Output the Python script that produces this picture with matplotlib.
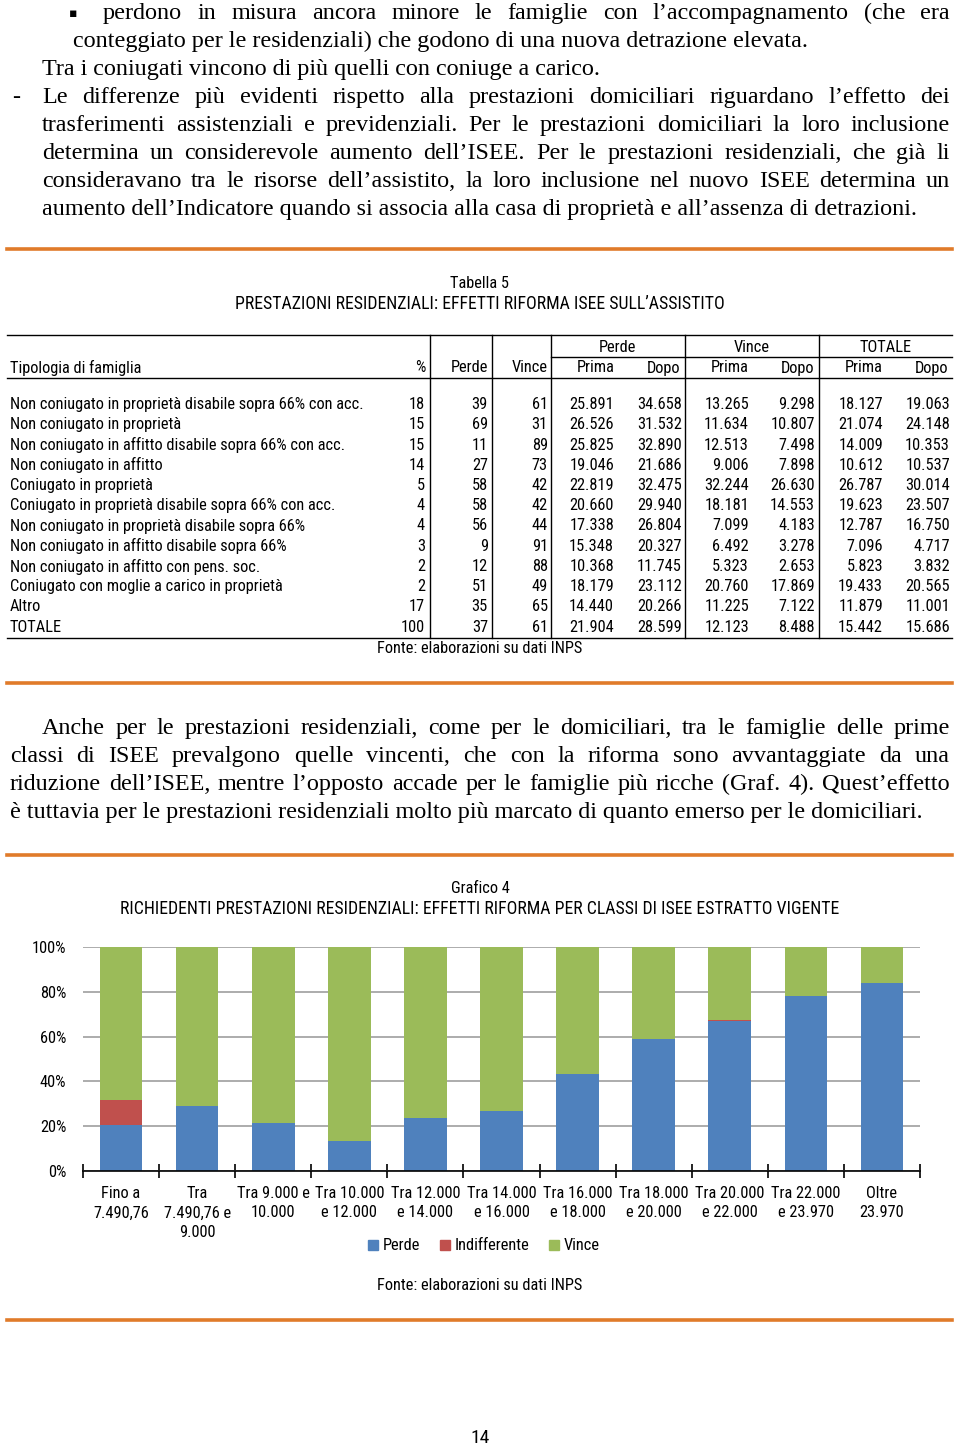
import matplotlib
matplotlib.use('Agg')
import matplotlib.pyplot as plt
from matplotlib.lines import Line2D
from matplotlib.patches import Patch

W, H = 960, 1447
SERIF = ['Liberation Serif', 'DejaVu Serif']
SANS = ['Roboto Condensed', 'Liberation Sans', 'DejaVu Sans']
ORANGE = '#E07B2A'
FS = 11.8      # testo sans
FST = 12.8     # titoli in maiuscolo
FSERIF = 17.4  # testo del corpo

# --- Tabella 5 ---
famiglie = [
    'Non coniugato in proprietà disabile sopra 66% con acc.',
    'Non coniugato in proprietà',
    'Non coniugato in affitto disabile sopra 66% con acc.',
    'Non coniugato in affitto',
    'Coniugato in proprietà',
    'Coniugato in proprietà disabile sopra 66% con acc.',
    'Non coniugato in proprietà disabile sopra 66%',
    'Non coniugato in affitto disabile sopra 66%',
    'Non coniugato in affitto con pens. soc.',
    'Coniugato con moglie a carico in proprietà',
    'Altro',
    'TOTALE',
]
quota = [18, 15, 15, 14, 5, 4, 4, 3, 2, 2, 17, 100]
perc_perde = [39, 69, 11, 27, 58, 58, 56, 9, 12, 51, 35, 37]
perc_vince = [61, 31, 89, 73, 42, 42, 44, 91, 88, 49, 65, 61]
perde_prima = [25891, 26526, 25825, 19046, 22819, 20660, 17338, 15348, 10368, 18179, 14440, 21904]
perde_dopo = [34658, 31532, 32890, 21686, 32475, 29940, 26804, 20327, 11745, 23112, 20266, 28599]
vince_prima = [13265, 11634, 12513, 9006, 32244, 18181, 7099, 6492, 5323, 20760, 11225, 12123]
vince_dopo = [9298, 10807, 7498, 7898, 26630, 14553, 4183, 3278, 2653, 17869, 7122, 8488]
tot_prima = [18127, 21074, 14009, 10612, 26787, 19623, 12787, 7096, 5823, 19433, 11879, 15442]
tot_dopo = [19063, 24148, 10353, 10537, 30014, 23507, 16750, 4717, 3832, 20565, 11001, 15686]

# --- Grafico 4 ---
classi = ['Fino a\n7.490,76', 'Tra\n7.490,76 e\n9.000', 'Tra 9.000 e\n10.000',
          'Tra 10.000\ne 12.000', 'Tra 12.000\ne 14.000', 'Tra 14.000\ne 16.000',
          'Tra 16.000\ne 18.000', 'Tra 18.000\ne 20.000', 'Tra 20.000\ne 22.000',
          'Tra 22.000\ne 23.970', 'Oltre\n23.970']
perde = [20.5, 29.0, 21.6, 13.2, 23.5, 26.9, 43.3, 58.9, 67.1, 78.3, 83.8]
indifferente = [11.0, 0, 0, 0.4, 0, 0, 0, 0, 0.4, 0, 0]
vince = [100 - p - i for p, i in zip(perde, indifferente)]

fig = plt.figure(figsize=(9.6, 14.47), dpi=100)
renderer = fig.canvas.get_renderer()


def fx(x):
    return x / W


def fy(y):
    return 1 - y / H


def put(x, y, s, size=FS, family=SANS, ha='left', va='center', **kw):
    return fig.text(fx(x), fy(y), s, fontsize=size, family=family, ha=ha, va=va, **kw)


def hline(y, x0, x1, color='black', lw=1.0):
    fig.add_artist(Line2D([fx(x0), fx(x1)], [fy(y), fy(y)], color=color, lw=lw,
                          transform=fig.transFigure))


def vline(x, y0, y1, lw=1.0):
    fig.add_artist(Line2D([fx(x), fx(x)], [fy(y0), fy(y1)], color='black', lw=lw,
                          transform=fig.transFigure))


def riga(text, x0, x1, y, justify=True, size=FSERIF):
    if not justify:
        put(x0, y, text, size, SERIF, va='baseline')
        return
    words = text.split()
    arts = [put(x0, y, w, size, SERIF, va='baseline') for w in words]
    widths = [a.get_window_extent(renderer).width for a in arts]
    gap = (x1 - x0 - sum(widths)) / (len(words) - 1)
    x = x0
    for a, w in zip(arts, widths):
        a.set_x(fx(x))
        x += w + gap


# testo in alto
put(73, 17, '▪', 9, ['DejaVu Sans'], ha='center', va='baseline')
riga("perdono in misura ancora minore le famiglie con l’accompagnamento (che era", 103, 950, 19)
riga("conteggiato per le residenziali) che godono di una nuova detrazione elevata.", 73, 950, 47, False)
riga("Tra i coniugati vincono di più quelli con coniuge a carico.", 42, 950, 75, False)
put(12, 103, '-', FSERIF, SERIF, va='baseline')
riga("Le differenze più evidenti rispetto alla prestazioni domiciliari riguardano l’effetto dei", 42, 950, 103)
riga("trasferimenti assistenziali e previdenziali. Per le prestazioni domiciliari la loro inclusione", 42, 950, 131)
riga("determina un considerevole aumento dell’ISEE. Per le prestazioni residenziali, che già li", 42, 950, 159)
riga("consideravano tra le risorse dell’assistito, la loro inclusione nel nuovo ISEE determina un", 42, 950, 187)
riga("aumento dell’Indicatore quando si associa alla casa di proprietà e all’assenza di detrazioni.", 42, 950, 215, False)

for y in (249, 683, 855, 1320):
    hline(y, 7, 952, ORANGE, 2.6)

# tabella
put(480, 284, 'Tabella 5', ha='center')
put(480, 304, 'PRESTAZIONI RESIDENZIALI: EFFETTI RIFORMA ISEE SULL’ASSISTITO', FST, ha='center')
hline(335, 7, 952)
hline(357, 551, 952)
hline(378, 7, 952)
hline(638, 7, 952)
for x in (430, 492, 551, 685, 819):
    vline(x, 335, 638)
put(617, 347, 'Perde', ha='center')
put(752, 347, 'Vince', ha='center')
put(886, 347, 'TOTALE', ha='center')
put(10, 368, 'Tipologia di famiglia')
put(425, 368, '%', ha='right')
put(488, 368, 'Perde', ha='right')
put(548, 368, 'Vince', ha='right')
for xc, lab in zip((596, 664, 730, 798, 864, 932), ['Prima', 'Dopo'] * 3):
    put(xc, 368, lab, ha='center')


def num(v):
    return f'{v:,}'.replace(',', '.')


cols = [(425, quota, str), (488, perc_perde, str), (548, perc_vince, str),
        (614, perde_prima, num), (682, perde_dopo, num), (749, vince_prima, num),
        (815, vince_dopo, num), (883, tot_prima, num), (950, tot_dopo, num)]
for i, fam in enumerate(famiglie):
    y = 404.5 + i * 20.25
    put(10, y, fam)
    for xr, vals, fmt in cols:
        put(xr, y, fmt(vals[i]), ha='right')
put(480, 649, 'Fonte: elaborazioni su dati INPS', ha='center')

# secondo paragrafo
riga("Anche per le prestazioni residenziali, come per le domiciliari, tra le famiglie delle prime", 42, 950, 734)
riga("classi di ISEE prevalgono quelle vincenti, che con la riforma sono avvantaggiate da una", 10, 950, 762)
riga("riduzione dell’ISEE, mentre l’opposto accade per le famiglie più ricche (Graf. 4). Quest’effetto", 10, 950, 790)
riga("è tuttavia per le prestazioni residenziali molto più marcato di quanto emerso per le domiciliari.", 10, 950, 818, False)

# grafico
put(480, 888, 'Grafico 4', ha='center')
put(480, 909, 'RICHIEDENTI PRESTAZIONI RESIDENZIALI: EFFETTI RIFORMA PER CLASSI DI ISEE ESTRATTO VIGENTE',
    FST, ha='center')

ax = fig.add_axes([fx(83), fy(1171), (920 - 83) / W, (1171 - 947) / H])
x = list(range(len(classi)))
bw = 0.56
base2 = [p + i for p, i in zip(perde, indifferente)]
ax.bar(x, perde, bw, color='#4F81BD', label='Perde', zorder=2)
ax.bar(x, indifferente, bw, bottom=perde, color='#C0504D', label='Indifferente', zorder=2)
ax.bar(x, vince, bw, bottom=base2, color='#9BBB59', label='Vince', zorder=2)
ax.set_xlim(-0.5, len(classi) - 0.5)
ax.set_ylim(0, 100)
ax.set_yticks(range(0, 101, 20))
ax.set_yticklabels([f'{v}%' for v in range(0, 101, 20)], family=SANS, fontsize=FS)
ax.yaxis.grid(True, color='#A6A6A6', lw=1.3, zorder=0)
ax.set_axisbelow(True)
ax.tick_params(axis='y', length=0, pad=12)
for s in ('top', 'right', 'left'):
    ax.spines[s].set_visible(False)
ax.spines['bottom'].set_linewidth(1.2)
ax.set_xticks([i - 0.5 for i in range(len(classi) + 1)])
ax.set_xticklabels([])
ax.set_xticks(x, minor=True)
ax.set_xticklabels(classi, minor=True, family=SANS, fontsize=FS, linespacing=1.35, va='top')
ax.tick_params(axis='x', which='major', direction='inout', length=10, width=1.2)
ax.tick_params(axis='x', which='minor', length=0, pad=11)

handles = [Patch(color='#4F81BD'), Patch(color='#C0504D'), Patch(color='#9BBB59')]
fig.legend(handles, ['Perde', 'Indifferente', 'Vince'], loc='center',
           bbox_to_anchor=(fx(484), fy(1246)), ncol=3, frameon=False,
           prop={'family': SANS, 'size': FS}, handlelength=0.6, handleheight=0.6,
           handletextpad=0.3, columnspacing=1.2)
put(480, 1285, 'Fonte: elaborazioni su dati INPS', ha='center')

put(480, 1438, '14', 14, ha='center')

fig.savefig('out.png', dpi=100)
